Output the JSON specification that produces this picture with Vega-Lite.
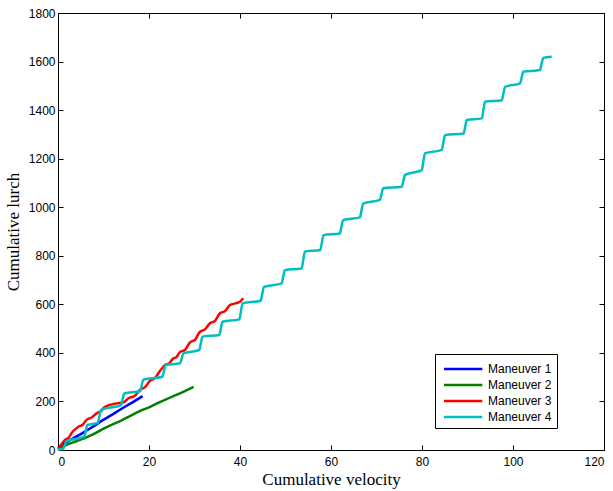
{
  "$schema": "https://vega.github.io/schema/vega-lite/v6.json",
  "width": 546,
  "height": 437,
  "autosize": {"type": "none"},
  "padding": {"left": 58, "top": 13, "right": 9, "bottom": 41},
  "background": "white",
  "config": {
    "view": {"stroke": "black", "strokeWidth": 1},
    "axis": {
      "domain": false,
      "grid": false,
      "tickSize": -5,
      "tickColor": "black",
      "labelFont": "Liberation Sans",
      "labelFontSize": 12,
      "labelColor": "black",
      "titleFont": "Liberation Serif",
      "titleFontSize": 17,
      "titleFontWeight": "normal",
      "titleColor": "black",
      "format": "d"
    }
  },
  "data": {
    "values": [
      {"series": "Maneuver 1", "x": 0, "y": 10},
      {"series": "Maneuver 1", "x": 1.5, "y": 28},
      {"series": "Maneuver 1", "x": 4, "y": 55},
      {"series": "Maneuver 1", "x": 6, "y": 77},
      {"series": "Maneuver 1", "x": 8, "y": 100},
      {"series": "Maneuver 1", "x": 9.6, "y": 120},
      {"series": "Maneuver 1", "x": 12, "y": 147},
      {"series": "Maneuver 1", "x": 14, "y": 170},
      {"series": "Maneuver 1", "x": 16, "y": 192},
      {"series": "Maneuver 1", "x": 18.6, "y": 222},

      {"series": "Maneuver 2", "x": 0, "y": 3},
      {"series": "Maneuver 2", "x": 2, "y": 22},
      {"series": "Maneuver 2", "x": 4, "y": 36},
      {"series": "Maneuver 2", "x": 6, "y": 50},
      {"series": "Maneuver 2", "x": 8, "y": 67},
      {"series": "Maneuver 2", "x": 10, "y": 88},
      {"series": "Maneuver 2", "x": 12, "y": 106},
      {"series": "Maneuver 2", "x": 14, "y": 122},
      {"series": "Maneuver 2", "x": 16, "y": 142},
      {"series": "Maneuver 2", "x": 18, "y": 160},
      {"series": "Maneuver 2", "x": 20, "y": 176},
      {"series": "Maneuver 2", "x": 22, "y": 194},
      {"series": "Maneuver 2", "x": 24, "y": 211},
      {"series": "Maneuver 2", "x": 26, "y": 227},
      {"series": "Maneuver 2", "x": 28, "y": 244},
      {"series": "Maneuver 2", "x": 29.8, "y": 260},

      {"series": "Maneuver 3", "x": 0, "y": 5},
      {"series": "Maneuver 3", "x": 0.4, "y": 14},
      {"series": "Maneuver 3", "x": 1.5, "y": 41},
      {"series": "Maneuver 3", "x": 2.4, "y": 52},
      {"series": "Maneuver 3", "x": 3, "y": 70},
      {"series": "Maneuver 3", "x": 4.5, "y": 96},
      {"series": "Maneuver 3", "x": 5.4, "y": 104},
      {"series": "Maneuver 3", "x": 6.3, "y": 124},
      {"series": "Maneuver 3", "x": 7.4, "y": 134},
      {"series": "Maneuver 3", "x": 8.5, "y": 151},
      {"series": "Maneuver 3", "x": 9.4, "y": 160},
      {"series": "Maneuver 3", "x": 10.3, "y": 178},
      {"series": "Maneuver 3", "x": 12.9, "y": 192},
      {"series": "Maneuver 3", "x": 14.4, "y": 196},
      {"series": "Maneuver 3", "x": 15.5, "y": 213},
      {"series": "Maneuver 3", "x": 16.8, "y": 222},
      {"series": "Maneuver 3", "x": 18, "y": 247},
      {"series": "Maneuver 3", "x": 19.2, "y": 260},
      {"series": "Maneuver 3", "x": 20.2, "y": 285},
      {"series": "Maneuver 3", "x": 21.3, "y": 296},
      {"series": "Maneuver 3", "x": 22.4, "y": 325},
      {"series": "Maneuver 3", "x": 23.5, "y": 350},
      {"series": "Maneuver 3", "x": 24.4, "y": 356},
      {"series": "Maneuver 3", "x": 25.3, "y": 377},
      {"series": "Maneuver 3", "x": 26.0, "y": 382},
      {"series": "Maneuver 3", "x": 26.8, "y": 403},
      {"series": "Maneuver 3", "x": 27.9, "y": 412},
      {"series": "Maneuver 3", "x": 29, "y": 443},
      {"series": "Maneuver 3", "x": 30.1, "y": 454},
      {"series": "Maneuver 3", "x": 31.2, "y": 487},
      {"series": "Maneuver 3", "x": 32.3, "y": 497},
      {"series": "Maneuver 3", "x": 33.4, "y": 522},
      {"series": "Maneuver 3", "x": 34.5, "y": 532},
      {"series": "Maneuver 3", "x": 35.6, "y": 563},
      {"series": "Maneuver 3", "x": 36.7, "y": 572},
      {"series": "Maneuver 3", "x": 37.8, "y": 597},
      {"series": "Maneuver 3", "x": 39.0, "y": 604},
      {"series": "Maneuver 3", "x": 40, "y": 611},
      {"series": "Maneuver 3", "x": 40.7, "y": 625},

      {"series": "Maneuver 4", "x": 0, "y": 2},
      {"series": "Maneuver 4", "x": 1.15, "y": 5},
      {"series": "Maneuver 4", "x": 1.5, "y": 20},
      {"series": "Maneuver 4", "x": 1.85, "y": 36},
      {"series": "Maneuver 4", "x": 5.75, "y": 55},
      {"series": "Maneuver 4", "x": 6.1, "y": 79},
      {"series": "Maneuver 4", "x": 6.45, "y": 103},
      {"series": "Maneuver 4", "x": 8.75, "y": 112},
      {"series": "Maneuver 4", "x": 9.1, "y": 138},
      {"series": "Maneuver 4", "x": 9.45, "y": 165},
      {"series": "Maneuver 4", "x": 13.85, "y": 185},
      {"series": "Maneuver 4", "x": 14.2, "y": 209},
      {"series": "Maneuver 4", "x": 14.55, "y": 233},
      {"series": "Maneuver 4", "x": 18.05, "y": 242},
      {"series": "Maneuver 4", "x": 18.4, "y": 266},
      {"series": "Maneuver 4", "x": 18.75, "y": 290},
      {"series": "Maneuver 4", "x": 22.95, "y": 302},
      {"series": "Maneuver 4", "x": 23.3, "y": 326},
      {"series": "Maneuver 4", "x": 23.65, "y": 350},
      {"series": "Maneuver 4", "x": 26.85, "y": 357},
      {"series": "Maneuver 4", "x": 27.2, "y": 378},
      {"series": "Maneuver 4", "x": 27.55, "y": 398},
      {"series": "Maneuver 4", "x": 31.05, "y": 412},
      {"series": "Maneuver 4", "x": 31.4, "y": 440},
      {"series": "Maneuver 4", "x": 31.75, "y": 467},
      {"series": "Maneuver 4", "x": 35.45, "y": 474},
      {"series": "Maneuver 4", "x": 35.8, "y": 501},
      {"series": "Maneuver 4", "x": 36.15, "y": 528},
      {"series": "Maneuver 4", "x": 39.85, "y": 538},
      {"series": "Maneuver 4", "x": 40.2, "y": 571},
      {"series": "Maneuver 4", "x": 40.55, "y": 604},
      {"series": "Maneuver 4", "x": 44.55, "y": 615},
      {"series": "Maneuver 4", "x": 44.9, "y": 644},
      {"series": "Maneuver 4", "x": 45.25, "y": 672},
      {"series": "Maneuver 4", "x": 49.15, "y": 686},
      {"series": "Maneuver 4", "x": 49.5, "y": 714},
      {"series": "Maneuver 4", "x": 49.85, "y": 741},
      {"series": "Maneuver 4", "x": 53.55, "y": 748},
      {"series": "Maneuver 4", "x": 53.9, "y": 783},
      {"series": "Maneuver 4", "x": 54.25, "y": 817},
      {"series": "Maneuver 4", "x": 57.65, "y": 824},
      {"series": "Maneuver 4", "x": 58.0, "y": 855},
      {"series": "Maneuver 4", "x": 58.35, "y": 885},
      {"series": "Maneuver 4", "x": 61.95, "y": 892},
      {"series": "Maneuver 4", "x": 62.3, "y": 920},
      {"series": "Maneuver 4", "x": 62.65, "y": 947},
      {"series": "Maneuver 4", "x": 66.35, "y": 958},
      {"series": "Maneuver 4", "x": 66.7, "y": 987},
      {"series": "Maneuver 4", "x": 67.05, "y": 1015},
      {"series": "Maneuver 4", "x": 70.75, "y": 1030},
      {"series": "Maneuver 4", "x": 71.1, "y": 1054},
      {"series": "Maneuver 4", "x": 71.45, "y": 1078},
      {"series": "Maneuver 4", "x": 75.55, "y": 1084},
      {"series": "Maneuver 4", "x": 75.9, "y": 1109},
      {"series": "Maneuver 4", "x": 76.25, "y": 1133},
      {"series": "Maneuver 4", "x": 79.95, "y": 1153},
      {"series": "Maneuver 4", "x": 80.3, "y": 1188},
      {"series": "Maneuver 4", "x": 80.65, "y": 1222},
      {"series": "Maneuver 4", "x": 84.35, "y": 1236},
      {"series": "Maneuver 4", "x": 84.7, "y": 1267},
      {"series": "Maneuver 4", "x": 85.05, "y": 1297},
      {"series": "Maneuver 4", "x": 89.15, "y": 1304},
      {"series": "Maneuver 4", "x": 89.5, "y": 1332},
      {"series": "Maneuver 4", "x": 89.85, "y": 1359},
      {"series": "Maneuver 4", "x": 93.15, "y": 1366},
      {"series": "Maneuver 4", "x": 93.5, "y": 1401},
      {"series": "Maneuver 4", "x": 93.85, "y": 1435},
      {"series": "Maneuver 4", "x": 97.55, "y": 1441},
      {"series": "Maneuver 4", "x": 97.9, "y": 1469},
      {"series": "Maneuver 4", "x": 98.25, "y": 1496},
      {"series": "Maneuver 4", "x": 101.55, "y": 1510},
      {"series": "Maneuver 4", "x": 101.9, "y": 1534},
      {"series": "Maneuver 4", "x": 102.25, "y": 1558},
      {"series": "Maneuver 4", "x": 105.95, "y": 1565},
      {"series": "Maneuver 4", "x": 106.3, "y": 1592},
      {"series": "Maneuver 4", "x": 106.65, "y": 1615},
      {"series": "Maneuver 4", "x": 108.5, "y": 1620}
    ]
  },
  "layer": [
    {
      "mark": {"type": "line", "strokeWidth": 2.5, "interpolate": "monotone"},
      "encoding": {
        "x": {
          "field": "x", "type": "quantitative",
          "scale": {"domain": [0, 120], "nice": false},
          "axis": {"orient": "bottom", "title": "Cumulative velocity", "values": [0, 20, 40, 60, 80, 100, 120], "labelPadding": 11, "titlePadding": 4}
        },
        "y": {
          "field": "y", "type": "quantitative",
          "scale": {"domain": [0, 1800], "nice": false},
          "axis": {"orient": "left", "title": "Cumulative lurch", "values": [0, 200, 400, 600, 800, 1000, 1200, 1400, 1600, 1800], "labelPadding": 8, "titlePadding": 6}
        },
        "color": {
          "field": "series", "type": "nominal",
          "scale": {"domain": ["Maneuver 1", "Maneuver 2", "Maneuver 3", "Maneuver 4"], "range": ["#0000FF", "#008000", "#FF0000", "#00BFBF"]},
          "legend": {
            "title": null, "orient": "none", "legendX": 377, "legendY": 341,
            "strokeColor": "black", "fillColor": "white", "padding": 5,
            "symbolType": "M-0.7,0H3.8", "symbolSize": 289, "symbolStrokeWidth": 2.5,
            "labelFont": "Liberation Sans", "labelFontSize": 12, "labelColor": "black",
            "rowPadding": 0, "labelOffset": 28
          }
        }
      }
    },
    {
      "mark": {"type": "line", "opacity": 0},
      "encoding": {
        "x": {
          "field": "x", "type": "quantitative",
          "axis": {"orient": "top", "title": null, "labels": false, "values": [0, 20, 40, 60, 80, 100, 120]}
        },
        "y": {
          "field": "y", "type": "quantitative",
          "axis": {"orient": "right", "title": null, "labels": false, "values": [0, 200, 400, 600, 800, 1000, 1200, 1400, 1600, 1800]}
        },
        "detail": {"field": "series"}
      }
    }
  ]
}
